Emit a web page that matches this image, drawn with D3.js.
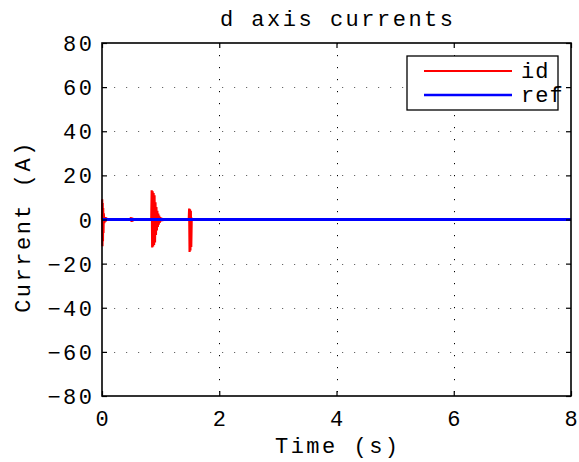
<!DOCTYPE html>
<html>
<head>
<meta charset="utf-8">
<script src="https://cdn.jsdelivr.net/npm/d3@7"></script>
<style>
  html, body { margin: 0; padding: 0; background: #fff; }
  svg text { font-family: "Liberation Mono", "DejaVu Sans Mono", monospace; fill: #000; }
</style>
</head>
<body>
<svg id="chart" width="579" height="462"></svg>
<script>
// Sampled d-axis current (id) and its reference, time in seconds
const idTime = [
  0, 0.004, 0.008, 0.012, 0.016, 0.02, 0.025, 0.03, 0.04, 0.05, 0.06, 0.08, 0.1,
  0.48, 0.495, 0.505, 0.515, 0.525, 0.54,
  0.84, 0.848, 0.856, 0.864, 0.872, 0.88, 0.888, 0.896, 0.904, 0.912, 0.92, 0.928,
  0.936, 0.944, 0.952, 0.96, 0.968, 0.976, 0.984, 0.995, 1.005, 1.02, 1.04, 1.06,
  1.48, 1.487, 1.494, 1.501, 1.508, 1.515, 1.522, 1.53, 1.55,
  8
];
const idValue = [
  0, 9.2, -12.1, 7.5, -9.8, 5.2, -6.1, 2.8, -1.6, 1.1, -0.8, 0.4, 0,
  0, 1.0, -1.1, 0.8, -0.6, 0,
  0, 13.3, -12.7, 12.8, -12.2, 12.0, -11.5, 11.0, -10.4, 7.8, -7.0, 5.6,
  -5.0, 3.9, -3.4, 2.7, -2.3, 1.8, -1.5, 1.1, -0.8, 0.5, -0.3, 0,
  0, 5.0, -14.7, 4.6, -14.0, 4.0, -12.5, 0.5, 0,
  0
];
const refTime = [0, 8];
const refValue = [0, 0];

const xTicks = [0, 2, 4, 6, 8];
const yTicks = [-80, -60, -40, -20, 0, 20, 40, 60, 80];
const seriesNames = ["id", "ref"];
const seriesColors = ["#ff0000", "#0000ff"];

const svg = d3.select("#chart");
const margin = { left: 102, top: 43, right: 8, bottom: 66 };
const W = 579, H = 462;
const x0 = margin.left, x1 = W - margin.right;
const y0 = margin.top, y1 = H - margin.bottom;

const x = d3.scaleLinear().domain([0, 8]).range([x0, x1]);
const y = d3.scaleLinear().domain([-80, 80]).range([y1, y0]);

const FS = 22, LS = 2.5;

svg.append("rect").attr("width", W).attr("height", H).attr("fill", "#fff");

// dotted grid
const grid = svg.append("g").attr("stroke-width", 1).attr("stroke-dasharray", "1.2,10.8");
grid.selectAll(".gx").data(xTicks.slice(1, -1)).join("line")
  .attr("stroke", "#000")
  .attr("x1", d => Math.round(x(d)) + 0.5).attr("x2", d => Math.round(x(d)) + 0.5)
  .attr("y1", y0).attr("y2", y1);
grid.selectAll(".gy").data(yTicks.slice(1, -1)).join("line")
  .attr("stroke", "#666")
  .attr("y1", d => Math.round(y(d)) + 0.5).attr("y2", d => Math.round(y(d)) + 0.5)
  .attr("x1", x0).attr("x2", x1);

// series
const line = d3.line().x(d => x(d[0])).y(d => y(d[1]));
const idData = d3.zip(idTime, idValue);
const refData = d3.zip(refTime, refValue);
const plot = svg.append("g");
plot.append("path").datum(idData).attr("d", line)
  .attr("fill", "none").attr("stroke", seriesColors[0]).attr("stroke-width", 2.2)
  .attr("stroke-linejoin", "miter").attr("stroke-miterlimit", 2);
plot.append("path").datum(refData).attr("d", line)
  .attr("fill", "none").attr("stroke", seriesColors[1]).attr("stroke-width", 3);

// axes: inward ticks on all four sides
const tl = 5;
const axB = svg.append("g").attr("transform", `translate(0,${y1})`)
  .call(d3.axisBottom(x).tickValues(xTicks).tickSizeInner(-tl).tickSizeOuter(0).tickFormat(() => ""));
const axT = svg.append("g").attr("transform", `translate(0,${y0})`)
  .call(d3.axisTop(x).tickValues(xTicks).tickSizeInner(-tl).tickSizeOuter(0).tickFormat(() => ""));
const axL = svg.append("g").attr("transform", `translate(${x0},0)`)
  .call(d3.axisLeft(y).tickValues(yTicks).tickSizeInner(-tl).tickSizeOuter(0).tickFormat(() => ""));
const axR = svg.append("g").attr("transform", `translate(${x1},0)`)
  .call(d3.axisRight(y).tickValues(yTicks).tickSizeInner(-tl).tickSizeOuter(0).tickFormat(() => ""));
[axB, axT, axL, axR].forEach(a => {
  a.select(".domain").remove();
  a.selectAll(".tick line").attr("stroke", "#000").attr("stroke-width", 1.2);
});

// tick labels
svg.append("g").selectAll("text").data(xTicks).join("text")
  .attr("x", d => x(d) + LS / 2).attr("y", y1 + 30)
  .attr("text-anchor", "middle").attr("font-size", FS).attr("letter-spacing", LS)
  .text(d => d);
svg.append("g").selectAll("text").data(yTicks).join("text")
  .attr("x", x0 - 10 + LS).attr("y", d => y(d) + 8)
  .attr("text-anchor", "end").attr("font-size", FS).attr("letter-spacing", LS)
  .text(d => d < 0 ? "\u2212" + Math.abs(d) : d);

// box
svg.append("rect").attr("x", x0).attr("y", y0).attr("width", x1 - x0).attr("height", y1 - y0)
  .attr("fill", "none").attr("stroke", "#000").attr("stroke-width", 1.6);

// titles
svg.append("text").attr("x", (x0 + x1) / 2 + LS / 2).attr("y", 26)
  .attr("text-anchor", "middle").attr("font-size", FS).attr("letter-spacing", LS)
  .text("d axis currents");
svg.append("text").attr("x", (x0 + x1) / 2 + LS / 2).attr("y", 453)
  .attr("text-anchor", "middle").attr("font-size", FS).attr("letter-spacing", LS)
  .text("Time (s)");
svg.append("text")
  .attr("transform", `translate(30,${(y0 + y1) / 2 + 7}) rotate(-90)`)
  .attr("text-anchor", "middle").attr("font-size", FS).attr("letter-spacing", LS)
  .text("Current (A)");

// legend
const lg = svg.append("g");
lg.append("rect").attr("x", 407).attr("y", 56).attr("width", 151).attr("height", 54)
  .attr("fill", "#fff").attr("stroke", "#000").attr("stroke-width", 1.3);
seriesNames.forEach((n, i) => {
  const ly = 71 + i * 24;
  lg.append("line").attr("x1", 424).attr("x2", 512).attr("y1", ly).attr("y2", ly)
    .attr("stroke", seriesColors[i]).attr("stroke-width", i === 0 ? 2.2 : 2.6);
  lg.append("text").attr("x", 521).attr("y", ly + 7)
    .attr("font-size", FS).attr("letter-spacing", 1).text(n);
});
</script>
</body>
</html>
